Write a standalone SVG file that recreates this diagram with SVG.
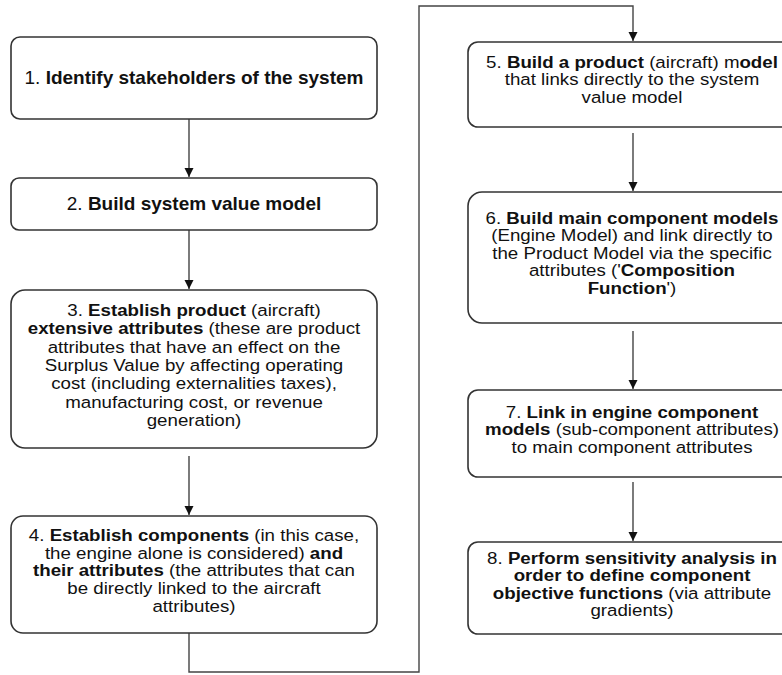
<svg xmlns="http://www.w3.org/2000/svg" width="782" height="675" viewBox="0 0 782 675">
<style>
.box{fill:#fff;stroke:#333;stroke-width:1.6}
text{font-family:"Liberation Sans",Arial,sans-serif;font-size:17px;fill:#111;text-anchor:middle}
.big{font-size:19px}
.b{font-weight:bold}
.con{fill:none;stroke:#444;stroke-width:1.4}
</style>
<defs>
<marker id="arr" markerUnits="userSpaceOnUse" markerWidth="10" markerHeight="12" refX="9" refY="4.5" orient="auto">
<path d="M0,0 L9,4.5 L0,9 Z" fill="#111"/>
</marker>
</defs>
<rect width="782" height="675" fill="#fff"/>
<g id="connectors">
<path class="con" d="M189,119 V177" marker-end="url(#arr)"/>
<path class="con" d="M189,230 V289" marker-end="url(#arr)"/>
<path class="con" d="M189,456 V515" marker-end="url(#arr)"/>
<path class="con" d="M189,633 V672 H419 V6 H633 V41" marker-end="url(#arr)"/>
<path class="con" d="M633,133 V191" marker-end="url(#arr)"/>
<path class="con" d="M633,331 V389" marker-end="url(#arr)"/>
<path class="con" d="M633,482 V541" marker-end="url(#arr)"/>
</g>
<g id="node1">
<rect class="box" x="11" y="37" width="366" height="82" rx="9"/>
<text class="big" x="194" y="84">1. <tspan class="b">Identify stakeholders of the system</tspan></text>
</g>
<g id="node2">
<rect class="box" x="11" y="178" width="366" height="52" rx="8"/>
<text class="big" x="194" y="210">2. <tspan class="b">Build system value model</tspan></text>
</g>
<g id="node3">
<rect class="box" x="11" y="290" width="366" height="158" rx="14"/>
<g transform="translate(194,0) scale(1.1,1)">
<text x="0" y="316">3. <tspan class="b">Establish product</tspan> (aircraft)</text>
<text x="0" y="334.3"><tspan class="b">extensive attributes</tspan>  (these are product</text>
<text x="0" y="352.7">attributes that have an effect on the</text>
<text x="0" y="371">Surplus Value by affecting operating</text>
<text x="0" y="389.3">cost (including externalities taxes),</text>
<text x="0" y="407.7">manufacturing cost, or revenue</text>
<text x="0" y="426">generation)</text>
</g>
</g>
<g id="node4">
<rect class="box" x="11" y="516" width="366" height="117" rx="12"/>
<g transform="translate(194,0) scale(1.1,1)">
<text x="0" y="541">4. <tspan class="b">Establish components</tspan> (in this case,</text>
<text x="0" y="558.7">the engine alone is considered) <tspan class="b">and</tspan></text>
<text x="0" y="576.4"><tspan class="b">their attributes</tspan> (the attributes that can</text>
<text x="0" y="594.1">be directly linked to the aircraft</text>
<text x="0" y="611.8">attributes)</text>
</g>
</g>
<g id="node5">
<rect class="box" x="468" y="42" width="330" height="85" rx="10"/>
<g transform="translate(632,0) scale(1.1,1)">
<text x="0" y="68">5. <tspan class="b">Build a product</tspan> (aircraft) m<tspan class="b">odel</tspan></text>
<text x="0" y="85.5">that links directly to the system</text>
<text x="0" y="103">value model</text>
</g>
</g>
<g id="node6">
<rect class="box" x="468" y="192" width="330" height="131" rx="14"/>
<g transform="translate(632,0) scale(1.1,1)">
<text x="0" y="224">6. <tspan class="b">Build main component models</tspan></text>
<text x="0" y="241.5">(Engine Model) and link directly to</text>
<text x="0" y="259">the Product Model via the specific</text>
<text x="0" y="276.5">attributes ('<tspan class="b">Composition</tspan></text>
<text x="0" y="294"><tspan class="b">Function</tspan>')</text>
</g>
</g>
<g id="node7">
<rect class="box" x="468" y="390" width="330" height="87" rx="10"/>
<g transform="translate(632,0) scale(1.1,1)">
<text x="0" y="418">7. <tspan class="b">Link in engine component</tspan></text>
<text x="0" y="435.5"><tspan class="b">models</tspan> (sub-component attributes)</text>
<text x="0" y="453">to main component attributes</text>
</g>
</g>
<g id="node8">
<rect class="box" x="468" y="542" width="330" height="92" rx="10"/>
<g transform="translate(632,0) scale(1.1,1)">
<text x="0" y="563.8">8. <tspan class="b">Perform sensitivity analysis in</tspan></text>
<text x="0" y="581.3"><tspan class="b">order to define component</tspan></text>
<text x="0" y="598.8"><tspan class="b">objective functions</tspan>  (via attribute</text>
<text x="0" y="616.3">gradients)</text>
</g>
</g>
</svg>
